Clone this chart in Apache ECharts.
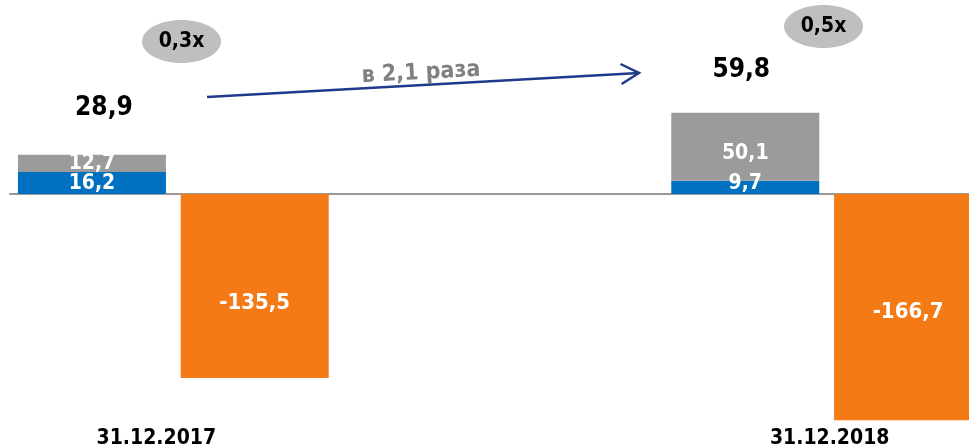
<!DOCTYPE html>
<html>
<head>
<meta charset="utf-8">
<script src="https://cdn.jsdelivr.net/npm/echarts@6/dist/echarts.min.js"></script>
<style>
  html, body { margin: 0; padding: 0; background: #fff; }
  #chart { width: 969px; height: 446px; }
</style>
</head>
<body>
<div id="chart"></div>
<script>
// data
var categories = ['31.12.2017', '', '31.12.2018'];
var blueValues = [16.2, '-', 9.7];
var grayValues = [12.7, '-', 50.1];
var orangeValues = [-135.5, '-', -166.7];
var totals = [28.9, '-', 59.8];
var multiples = ['0,3x', '0,5x'];
var growthText = 'в 2,1 раза';

var FONT = '"DejaVu Sans Condensed", "DejaVu Sans", sans-serif';

function fmt(v) {
    return v.toFixed(1).replace('.', ',');
}

// per-bar label nudges, the labels in the picture are not all centred
var grayLabelShift = [[0, 0], null, [0, 7]];
var blueLabelShift = [[0, 1], null, [0, -4]];
var orangeLabelShift = [[0, 17], null, [0, 5]];
var totalLabelShift = [[12, 0], null, [-4, 0]];
var dateLabelShift = [[-17, 0], null, [3, 0]];

function items(values, shifts, extra) {
    return values.map(function (v, i) {
        if (v === '-') return '-';
        var o = { value: v, label: { offset: shifts[i] } };
        if (extra) Object.assign(o.label, extra(i));
        return o;
    });
}

var chart = echarts.init(document.getElementById('chart'));

var option = {
    animation: false,
    grid: { left: 10, top: 4, width: 980, height: 418, containLabel: false, outerBoundsMode: 'none' },
    xAxis: [
        {
            // zero line
            type: 'category',
            data: categories,
            axisLine: { onZero: true, lineStyle: { color: '#999999', width: 2 } },
            axisTick: { show: false },
            axisLabel: { show: false }
        },
        {
            // date labels along the bottom
            type: 'category',
            position: 'bottom',
            data: categories.map(function (c, i) {
                var s = dateLabelShift[i];
                return s ? { value: c, textStyle: { padding: [0, s[0] < 0 ? -2 * s[0] : 0, 0, s[0] > 0 ? 2 * s[0] : 0] } } : c;
            }),
            axisLine: { show: false, onZero: false },
            axisTick: { show: false },
            axisLabel: {
                interval: 0,
                margin: 6,
                color: '#000',
                fontFamily: FONT,
                fontWeight: 'bold',
                fontSize: 21
            }
        }
    ],
    yAxis: {
        type: 'value',
        min: -168,
        max: 140,
        show: false,
        splitLine: { show: false }
    },
    series: [
        {
            type: 'bar',
            name: 'blue',
            stack: 'pos',
            barWidth: 148,
            barGap: '10%',
            itemStyle: { color: '#0070c0' },
            label: {
                show: true, position: 'inside', color: '#fff',
                fontFamily: FONT, fontWeight: 'bold', fontSize: 21,
                formatter: function (p) { return fmt(p.value); }
            },
            data: items(blueValues, blueLabelShift)
        },
        {
            type: 'bar',
            name: 'gray',
            stack: 'pos',
            barWidth: 148,
            itemStyle: { color: '#9b9b9b' },
            label: {
                show: true, position: 'inside', color: '#fff',
                fontFamily: FONT, fontWeight: 'bold', fontSize: 21,
                formatter: function (p) { return fmt(p.value); }
            },
            data: items(grayValues, grayLabelShift)
        },
        {
            // total above the stack, drawn as an empty bar on top of it
            type: 'bar',
            name: 'total',
            stack: 'pos',
            barWidth: 148,
            itemStyle: { color: 'transparent' },
            label: {
                show: true, position: 'top', distance: 34, color: '#000',
                fontFamily: FONT, fontWeight: 'bold', fontSize: 26,
                formatter: function (p) { return fmt(totals[p.dataIndex]); }
            },
            data: items(totals.map(function (t) { return t === '-' ? '-' : 0; }), totalLabelShift, function (i) {
                return i === 2 ? { distance: 30 } : {};
            })
        },
        {
            type: 'bar',
            name: 'orange',
            barWidth: 148,
            itemStyle: { color: '#f47a16' },
            label: {
                show: true, position: 'inside', color: '#fff',
                fontFamily: FONT, fontWeight: 'bold', fontSize: 22,
                formatter: function (p) { return fmt(p.value); }
            },
            data: items(orangeValues, orangeLabelShift)
        }
    ],
    graphic: [
        { type: 'ellipse', shape: { cx: 181.5, cy: 41.5, rx: 39.5, ry: 21.5 }, style: { fill: '#bfbfbf' } },
        { type: 'ellipse', shape: { cx: 823.5, cy: 26.5, rx: 39.5, ry: 21.5 }, style: { fill: '#bfbfbf' } },
        { type: 'text', x: 181.5, y: 42, style: { text: multiples[0], fill: '#000', font: 'bold 21px ' + FONT, textAlign: 'center', textVerticalAlign: 'middle' } },
        { type: 'text', x: 823.5, y: 27, style: { text: multiples[1], fill: '#000', font: 'bold 21px ' + FONT, textAlign: 'center', textVerticalAlign: 'middle' } },
        { type: 'line', shape: { x1: 207, y1: 97, x2: 639, y2: 73 }, style: { stroke: '#1f3a8a', lineWidth: 2.5 } },
        { type: 'polyline', shape: { points: [[620.5, 64], [639, 73], [621.6, 84]] }, style: { stroke: '#1f3a8a', lineWidth: 2.5, fill: null } },
        { type: 'text', x: 421, y: 73, rotation: 0.055, style: { text: growthText, fill: '#808080', font: 'bold 23px ' + FONT, textAlign: 'center', textVerticalAlign: 'middle' } }
    ]
};

chart.setOption(option);
</script>
</body>
</html>
